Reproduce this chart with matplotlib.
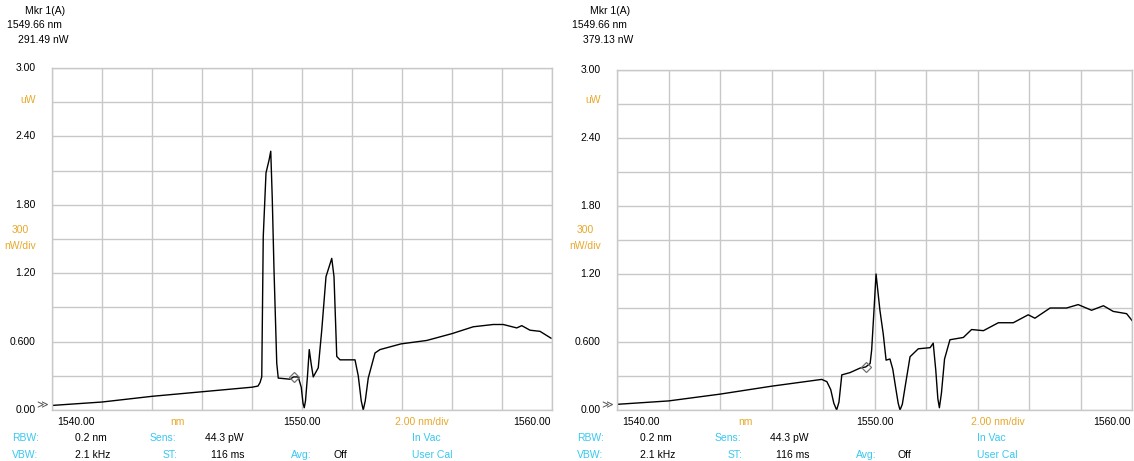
import numpy as np
import matplotlib
matplotlib.use('Agg')
import matplotlib.pyplot as plt

plt.rcParams['font.family'] = ['Liberation Sans', 'DejaVu Sans']

# trace A (left screen), wavelength in nm, power in uW
wl_a = [1540.0, 1542.0, 1544.0, 1546.0, 1548.0, 1548.24, 1548.32, 1548.39, 1548.45,
        1548.56, 1548.68, 1548.75, 1548.81, 1548.88, 1548.99, 1549.05, 1549.52,
        1549.66, 1549.85, 1549.97, 1550.04, 1550.09, 1550.14, 1550.22, 1550.29,
        1550.37, 1550.45, 1550.65, 1550.79, 1550.96, 1551.09, 1551.19, 1551.28,
        1551.39, 1551.52, 1552.12, 1552.25, 1552.37, 1552.45, 1552.53, 1552.65,
        1552.92, 1553.12, 1553.96, 1554.99, 1556.0, 1556.85, 1557.65, 1558.05,
        1558.59, 1558.79, 1559.12, 1559.52, 1559.96]
pw_a = [0.04, 0.07, 0.12, 0.16, 0.20, 0.21, 0.24, 0.29, 1.52,
        2.08, 2.19, 2.27, 1.86, 1.23, 0.41, 0.28, 0.27,
        0.29, 0.29, 0.20, 0.06, 0.02, 0.08, 0.30, 0.53,
        0.40, 0.29, 0.37, 0.70, 1.17, 1.26, 1.33, 1.17,
        0.47, 0.44, 0.44, 0.30, 0.08, 0.00, 0.08, 0.28,
        0.50, 0.53, 0.58, 0.61, 0.67, 0.73, 0.75, 0.75,
        0.72, 0.74, 0.70, 0.69, 0.63]

# trace A (right screen)
wl_b = [1540.0, 1542.0, 1544.0, 1546.0, 1547.95, 1548.15, 1548.3, 1548.42, 1548.53,
        1548.62, 1548.73, 1549.05, 1549.44, 1549.66, 1549.83, 1549.89, 1549.98,
        1550.06, 1550.21, 1550.34, 1550.45, 1550.6, 1550.71, 1550.82, 1550.92,
        1550.99, 1551.08, 1551.2, 1551.38, 1551.7, 1552.16, 1552.28, 1552.38,
        1552.46, 1552.52, 1552.6, 1552.72, 1552.93, 1553.45, 1553.77, 1554.23,
        1554.81, 1555.39, 1555.97, 1556.23, 1556.82, 1557.46, 1557.91, 1558.43,
        1558.89, 1559.27, 1559.79, 1560.0]
pw_b = [0.05, 0.08, 0.14, 0.21, 0.27, 0.25, 0.18, 0.06, 0.00,
        0.07, 0.31, 0.33, 0.37, 0.38, 0.41, 0.53, 0.88,
        1.20, 0.88, 0.67, 0.44, 0.45, 0.36, 0.20, 0.06,
        0.00, 0.05, 0.22, 0.47, 0.54, 0.55, 0.59, 0.35,
        0.10, 0.02, 0.15, 0.45, 0.62, 0.64, 0.71, 0.70,
        0.77, 0.77, 0.84, 0.81, 0.90, 0.90, 0.93, 0.88,
        0.92, 0.87, 0.85, 0.79]

mkr_wl = 1549.66
mkr_a = 0.29149
mkr_b = 0.37913

yticks = [3.0, 2.4, 1.8, 1.2, 0.6, 0.0]
ylabels = ['3.00', '2.40', '1.80', '1.20', '0.600', '0.00']

orange = '#e8a82a'
cyan = '#38c8f0'
grid_c = '#c8c8c8'

fig = plt.figure(figsize=(11.34, 4.61), dpi=100)
W, H = 1134.0, 461.0


def ftext(x, y, s, color='black', ha='left', size=7.5):
    fig.text(x / W, 1 - y / H, s, color=color, ha=ha, va='center', fontsize=size)


def screen(rect, wl, pw, mkr_p, x0):
    ax = fig.add_axes(rect)
    ax.plot(wl, pw, color='black', lw=1.0)
    ax.plot([mkr_wl], [mkr_p], marker='D', ms=5, mfc='none', mec='#707070', mew=0.9)
    ax.set_xlim(1540, 1560)
    ax.set_ylim(0, 3.0)
    ax.set_xticks(np.arange(1540, 1561, 2))
    ax.set_yticks(np.arange(0, 3.01, 0.3))
    ax.grid(True, color=grid_c, lw=1.0)
    ax.tick_params(length=0, labelbottom=False, labelleft=False)
    for s in ax.spines.values():
        s.set_color(grid_c)
        s.set_linewidth(1.0)
    ax.set_axisbelow(True)

    # y tick labels
    ytr = ax.get_yaxis_transform()
    for v, lab in zip(yticks, ylabels):
        ax.text(-0.032, v, lab, transform=ytr, ha='right', va='center', fontsize=7.5)
    ax.text(-0.008, 0.0, '\u226b', transform=ytr, ha='right', va='bottom',
            fontsize=8, color='#555555', family='DejaVu Sans')

    # orange unit labels
    ftext(x0 + 28, 100, 'uW', color=orange, ha='center')
    ftext(x0 + 20, 230, '300', color=orange, ha='center')
    ftext(x0 + 20, 246, 'nW/div', color=orange, ha='center')

    # x labels
    tr = ax.get_xaxis_transform()
    ax.text(1540.2, -0.035, '1540.00', transform=tr, ha='left', va='center', fontsize=7.5)
    ax.text(1545.0, -0.035, 'nm', transform=tr, ha='center', va='center', fontsize=7.5, color=orange)
    ax.text(1550.0, -0.035, '1550.00', transform=tr, ha='center', va='center', fontsize=7.5)
    ax.text(1554.8, -0.035, '2.00 nm/div', transform=tr, ha='center', va='center', fontsize=7.5, color=orange)
    ax.text(1559.95, -0.035, '1560.00', transform=tr, ha='right', va='center', fontsize=7.5)

    # header
    ftext(x0 + 45, 11, 'Mkr 1(A)', ha='center')
    ftext(x0 + 34, 25, '1549.66 nm', ha='center')
    ftext(x0 + 43, 40, '%.2f nW' % (mkr_p * 1000), ha='center')

    # settings rows
    ftext(x0 + 12, 438, 'RBW:', color=cyan)
    ftext(x0 + 75, 438, '0.2 nm')
    ftext(x0 + 150, 438, 'Sens:', color=cyan)
    ftext(x0 + 205, 438, '44.3 pW')
    ftext(x0 + 412, 438, 'In Vac', color=cyan)
    ftext(x0 + 12, 455, 'VBW:', color=cyan)
    ftext(x0 + 75, 455, '2.1 kHz')
    ftext(x0 + 163, 455, 'ST:', color=cyan)
    ftext(x0 + 211, 455, '116 ms')
    ftext(x0 + 291, 455, 'Avg:', color=cyan)
    ftext(x0 + 333, 455, 'Off')
    ftext(x0 + 412, 455, 'User Cal', color=cyan)
    return ax


screen([52 / W, 1 - 410 / H, 500 / W, 342 / H], wl_a, pw_a, mkr_a, 0)
screen([617 / W, 1 - 410 / H, 515 / W, 340 / H], wl_b, pw_b, mkr_b, 565)

fig.savefig('out.png', dpi=100)
